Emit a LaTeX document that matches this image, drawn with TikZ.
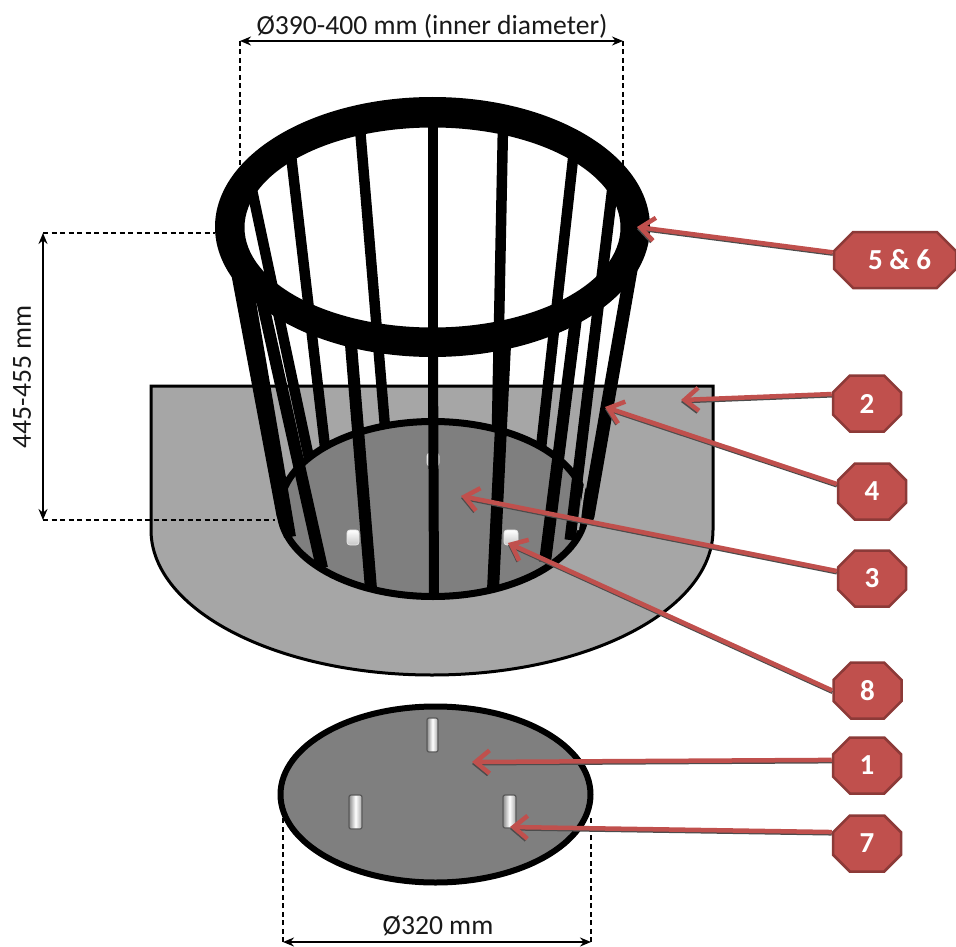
\documentclass[tikz,border=0pt]{standalone}
\usepackage{fontspec}
\setmainfont{Carlito}
\usetikzlibrary{arrows.meta,shapes.misc}
\definecolor{tagfill}{HTML}{C0504D}
\definecolor{tagedge}{HTML}{8C3A38}
\definecolor{platefill}{HTML}{A6A6A6}
\definecolor{diskfill}{HTML}{7F7F7F}
\tikzset{
  rod/.style={line width=12pt,black},
  tag/.style={chamfered rectangle,chamfered rectangle xsep=16pt,chamfered rectangle ysep=16pt,
    draw=tagedge,line width=2.5pt,fill=tagfill,text=white,font=\fontsize{29}{29}\selectfont\bfseries,
    inner sep=0pt,minimum height=56pt,minimum width=68pt},
  pointer/.style={draw=tagfill,line width=4.5pt,-{Straight Barb[length=14pt,width=23pt,line width=4.5pt]},
    preaction={draw=black!70,line width=3pt,-{Straight Barb[length=14pt,width=23pt,line width=2pt]},transform canvas={shift={(0pt,-2pt)}}}},
  dimtext/.style={font=\fontsize{27.6}{28}\selectfont,text=black!90,inner sep=0pt},
  dimline/.style={line width=1.6pt,black,{Stealth[length=11pt,width=9pt]}-{Stealth[length=11pt,width=9pt]}},
  witness/.style={line width=1.6pt,black,dash pattern=on 5pt off 3.5pt},
  peg/.style={draw=black!65,line width=1.2pt,rounded corners=2pt,left color=black!45,right color=black!35,middle color=white},
  stub/.style={draw=black!10,line width=.8pt,rounded corners=3pt,top color=white,bottom color=black!22}
}
\begin{document}
\begin{tikzpicture}[x=1pt,y=-1pt]
\useasboundingbox (0,0) rectangle (956,947);
% plate
\draw[line width=3pt,fill=platefill] (151,386)--(713,386)--(713,530) arc[start angle=0,end angle=-180,x radius=281pt,y radius=145pt]--cycle;
% hole
\fill[diskfill] (433,509) ellipse[x radius=153pt,y radius=88pt];
% stubs
\draw[stub] (427,453) rectangle (439,466);
\draw[stub] (347,530) rectangle (359,545);
\draw[stub] (504,530) rectangle (518,545);
% rods behind
\draw[rod,line width=10.5pt] (360,128)--(385,427);
\draw[rod,line width=10.5pt] (291,155)--(325,447);
\draw[rod,line width=10.5pt] (252,190)--(309,458);
\draw[rod,line width=10.5pt] (503,125)--(497,426);
\draw[rod,line width=10.5pt] (574,150)--(541,448);
\draw[rod,line width=10pt] (433,125)--(433,422);
% hole outline
\draw[line width=7pt,black] (433,509) ellipse[x radius=153pt,y radius=87.5pt];
% rods in front
\draw[rod,line width=10pt] (433,345)--(434,595);
\draw[rod] (505,345)--(493,590);
\draw[rod] (349,320)--(371,589);
\draw[rod] (262,300)--(322,568);
\draw[rod,line width=13pt,line cap=round] (238,275)--(283,515);
\draw[rod] (248,290)--(290,537);
\draw[rod] (577,310)--(545,562);
\draw[rod,line width=11pt] (613,185)--(570,540);
\draw[rod,line width=13pt,line cap=round] (631,270)--(588,516);
\draw[line width=2pt,platefill] (585,483)--(578,530);
% ring
\fill[black,even odd rule] (432.5,227) ellipse[x radius=217.5pt,y radius=130pt] (432.5,227.5) ellipse[x radius=188pt,y radius=100pt];
% disk
\draw[line width=6pt,fill=diskfill] (435.5,794.5) ellipse[x radius=155pt,y radius=88pt];
\draw[peg] (427,718) rectangle (438,752);
\draw[peg] (349,795) rectangle (362,829);
\draw[peg] (503,795) rectangle (516,828);
% dimensions
\coordinate (ta) at (240,41); \coordinate (tb) at (623,41);
\coordinate (tc) at (240,165); \coordinate (td) at (623,165);
\draw[witness] (ta)--(tc);
\draw[witness] (tb)--(td);
\draw[dimline] (ta)--(tb);
\node[dimtext] (dtop) at (432,26) {Ø390-400 mm (inner diameter)};
\coordinate (la) at (43,233); \coordinate (lb) at (43,520);
\coordinate (lc) at (215,233); \coordinate (ld) at (275,520);
\draw[witness] (la)--(lc);
\draw[witness] (lb)--(ld);
\draw[dimline] (la)--(lb);
\node[dimtext,rotate=90] (dleft) at (22,377) {445-455 mm};
\coordinate (ba) at (283,942); \coordinate (bb) at (591,942);
\coordinate (bc) at (283,815); \coordinate (bd) at (591,815);
\draw[witness] (ba)--(bc);
\draw[witness] (bb)--(bd);
\draw[dimline] (ba)--(bb);
\node[dimtext] (dbot) at (438,926) {Ø320 mm};
% targets
\coordinate (p56) at (637,227);
\coordinate (p2) at (681,400);
\coordinate (p4) at (605,407);
\coordinate (p3) at (461,496);
\coordinate (p8) at (508,543);
\coordinate (p1) at (472,762);
\coordinate (p7) at (510,827);
% tags
\node[tag,minimum width=122pt,chamfered rectangle xsep=16pt,chamfered rectangle ysep=9pt] (t56) at (895,260) {\hspace{9pt}5 \& 6};
\node[tag] (t2) at (867,403.5) {2};
\node[tag] (t4) at (872,491.5) {4};
\node[tag] (t3) at (872,578.5) {3};
\node[tag] (t8) at (867.5,690.5) {8};
\node[tag] (t1) at (867,765.5) {1};
\node[tag] (t7) at (867,843.5) {7};
% pointers
\draw[pointer] (t56.173)--(p56);
\draw[pointer] (t2.165)--(p2);
\draw[pointer] (t4.168)--(p4);
\draw[pointer] (t3.168)--(p3);
\draw[pointer] (t8.180)--(p8);
\draw[pointer] (t1.171)--(p1);
\draw[pointer] (t7.162)--(p7);
\end{tikzpicture}
\end{document}
